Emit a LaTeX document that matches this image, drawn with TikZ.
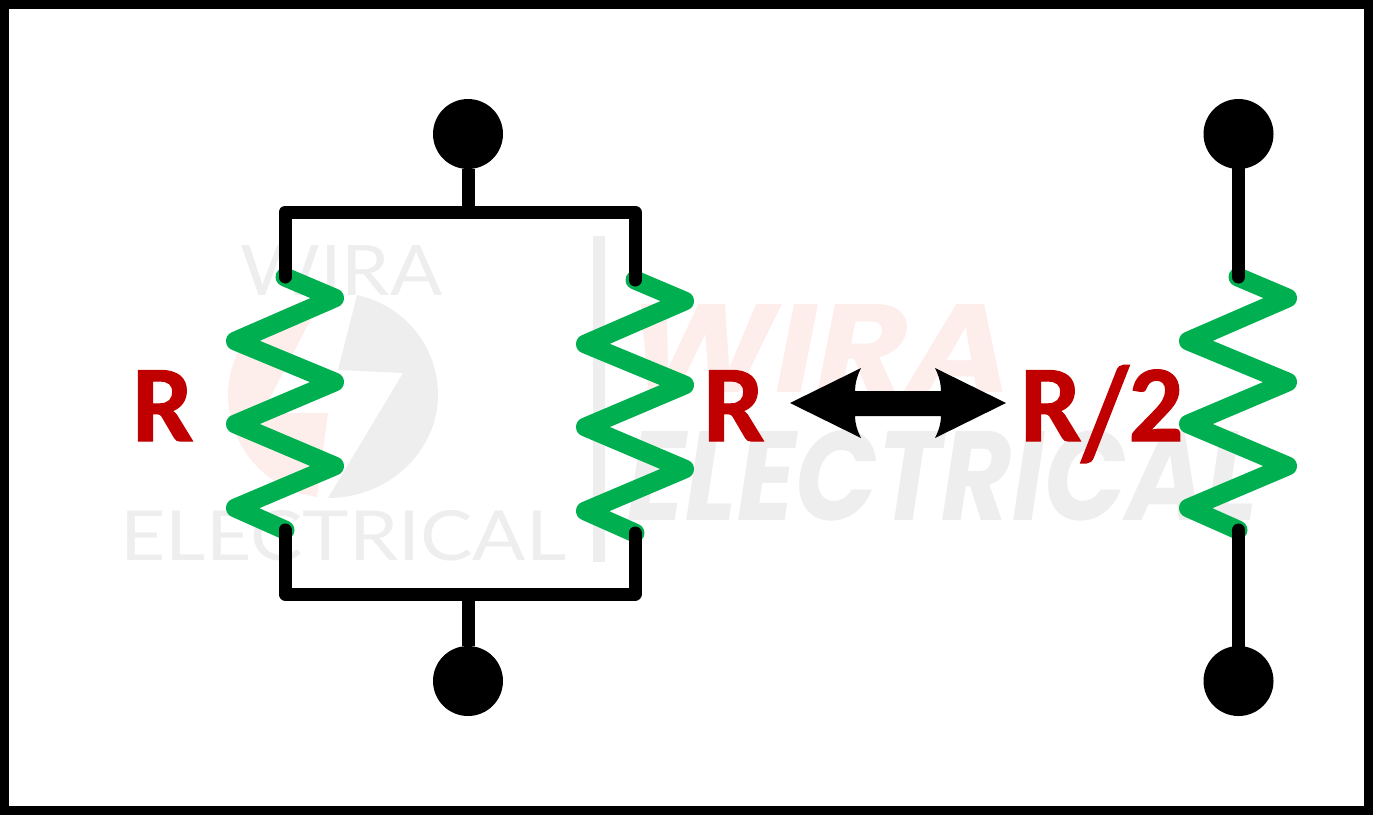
\documentclass[tikz,border=0pt]{standalone}
\usepackage{fontspec}
\setmainfont{Carlito}[BoldFeatures={FakeBold=1}]
\newfontfamily\markfont{Lato}
\newfontfamily\heavyfont{Poppins}
\definecolor{resgreen}{HTML}{00B050}
\definecolor{labelred}{HTML}{C00000}
\definecolor{markgrey}{HTML}{EEEEEE}
\definecolor{markred}{HTML}{FDEEEC}

\begin{document}
\begin{tikzpicture}[
    x=1pt, y=-1pt,
    % Styles
    wire/.style={line width=13pt, draw=black, line join=round, line cap=round},
    stem/.style={line width=13pt, draw=black},
    resistor/.style={line width=19pt, draw=resgreen, line join=round, line cap=round},
    terminal/.style={circle, fill=black, inner sep=0pt, minimum size=70pt},
    reslabel/.style={anchor=base west, inner sep=0pt, text=labelred, font=\fontsize{109}{109}\selectfont\bfseries},
    thinmark/.style={anchor=base west, inner sep=0pt, text=markgrey, font=\markfont},
    boldmark/.style={anchor=base west, inner sep=0pt, font=\heavyfont\bfseries\itshape}
]
  \useasboundingbox (0,0) rectangle (1373,815);

  % Watermark logo
  \fill[markred] (322,298) .. controls (265,305) and (228,345) .. (228,395)
    .. controls (228,445) and (265,490) .. (317,497) -- (328,413) -- (262,413) -- cycle;
  \fill[markgrey] (357,295) .. controls (403,305) and (438,345) .. (438,395)
    .. controls (438,450) and (390,498) .. (328,498) -- (403,373) -- (338,370) -- cycle;
  \fill[markgrey] (593,236) rectangle (605,562);

  % Watermark text
  \node[thinmark] (markwira) at (240,295) {\resizebox{202pt}{50pt}{WIRA}};
  \node[thinmark] (markelec) at (120,560) {\resizebox{446pt}{50pt}{ELECTRICAL}};
  \node[boldmark, text=markred] (boldwira) at (627,392) {\resizebox{385pt}{88pt}{WIRA}};
  \node[boldmark, text=markgrey] (boldelec) at (627,520) {\resizebox{630pt}{90pt}{ELECTRICAL}};

  % Outer frame
  \draw[line width=9pt] (4.5,4.5) rectangle (1368.5,810.5);

  % Resistors
  \foreach \dx/\dy in {0/0, 350/3, 953/0} {
    \draw[resistor, shift={(\dx,\dy)}] (285,277) -- (334.5,298) -- (235.5,341) -- (334.5,382)
      -- (235.5,424) -- (334.5,466) -- (235.5,508) -- (285,530);
  }

  % Terminals
  \node[terminal] (topleft) at (468,134) {};
  \node[terminal] (botleft) at (468,681) {};
  \node[terminal] (topright) at (1238.5,134) {};
  \node[terminal] (botright) at (1238.5,681) {};

  % Resistor ends and box corners
  \coordinate (r1top) at (285,277);
  \coordinate (r1bot) at (285,530);
  \coordinate (r2top) at (635,280);
  \coordinate (r2bot) at (635,533);
  \coordinate (r3top) at (1238.5,277);
  \coordinate (r3bot) at (1238.5,530);
  \coordinate (boxtop) at (468,212);
  \coordinate (boxbot) at (468,594);

  % Parallel branch
  \draw[wire] (r1top) -- (r1top |- boxtop) -- (r2top |- boxtop) -- (r2top);
  \draw[wire] (r1bot) -- (r1bot |- boxbot) -- (r2bot |- boxbot) -- (r2bot);
  \draw[stem] (topleft) -- (boxtop);
  \draw[stem] (botleft) -- (boxbot);

  % Equivalent branch
  \draw[wire] (topright) -- (r3top);
  \draw[wire] (botright) -- (r3bot);

  % Labels
  \node[reslabel] (labelr1) at (132,441) {R};
  \node[reslabel] (labelr2) at (703,441) {R};
  \node[reslabel] (labelr3) at (1020,441) {R\raisebox{-16pt}{\scalebox{1}[1.2]{/}}2};

  % Double arrow
  \fill (790,403) -- (861,368) .. controls (857,376) and (855,384) .. (855,391)
    -- (941,391) .. controls (941,384) and (939,376) .. (935,368) -- (1006,403)
    -- (935,438) .. controls (939,430) and (941,423) .. (941,416)
    -- (855,416) .. controls (855,423) and (857,430) .. (861,438) -- cycle;

\end{tikzpicture}
\end{document}
